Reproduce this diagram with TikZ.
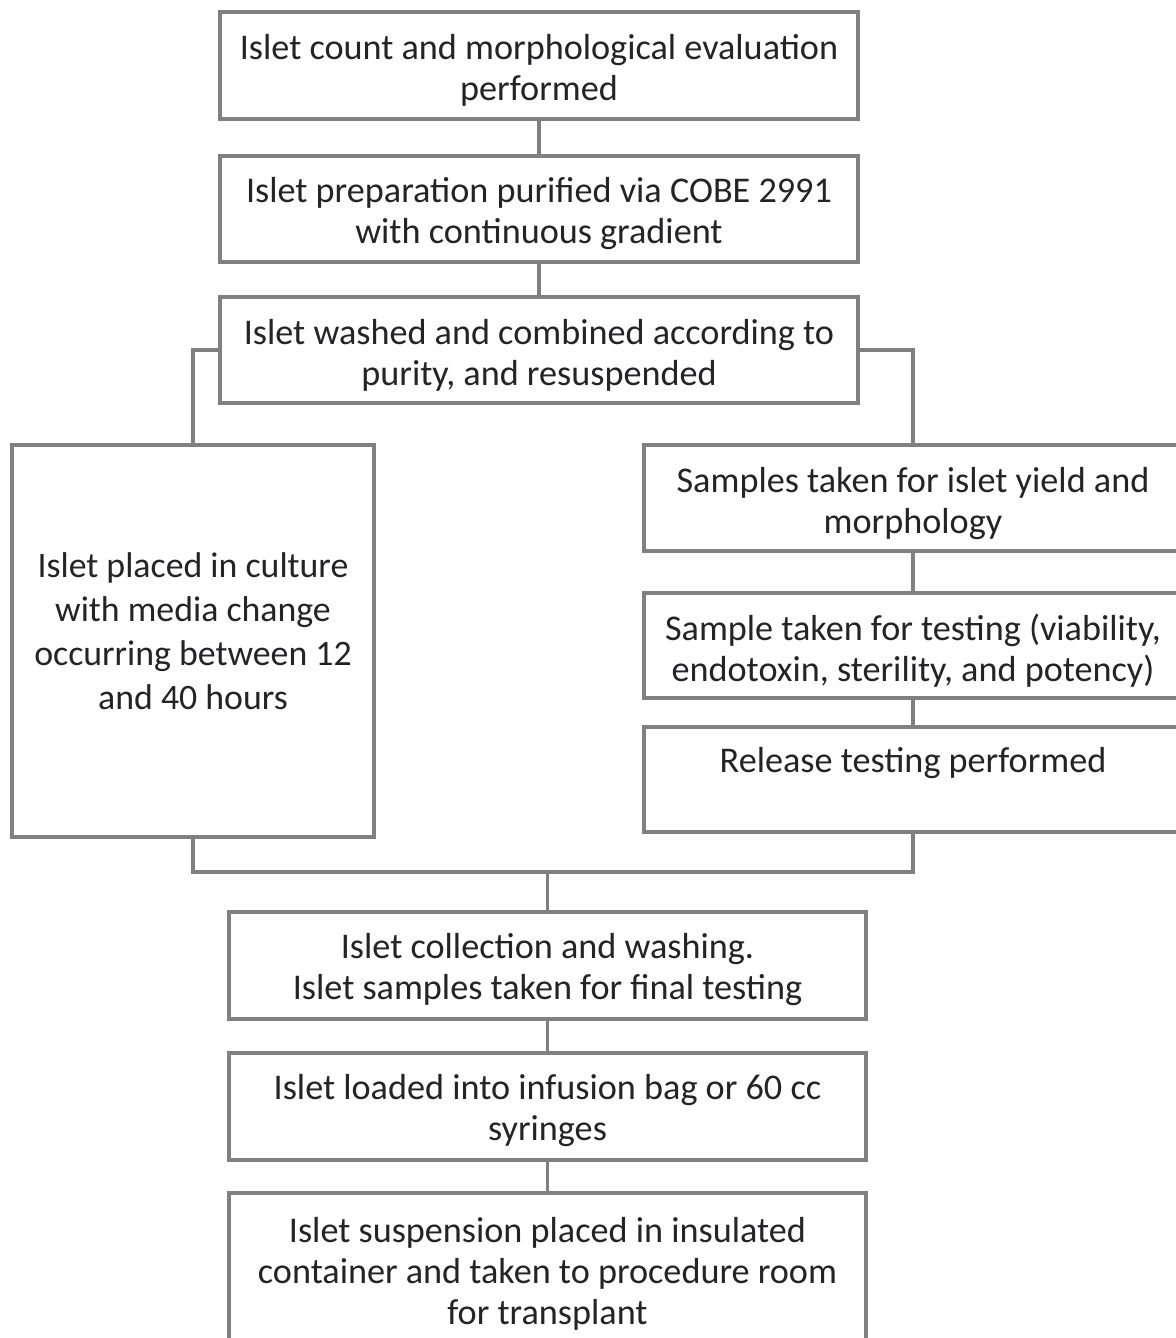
\documentclass[tikz,border=0pt]{standalone}
\usepackage{fontspec}
\usetikzlibrary{calc}
\setmainfont{Carlito}
\definecolor{boxgray}{RGB}{128,128,128}
\definecolor{txt}{RGB}{35,35,40}
\begin{document}
\begin{tikzpicture}[x=0.5pt,y=-0.5pt,
  box/.style={draw=boxgray, line width=2pt, fill=white, inner sep=0pt},
  wide/.style={box, minimum width=319pt},
  rbox/.style={box, minimum width=269pt},
  boxtext/.style={inner sep=0pt, align=center, text=txt, font=\fontsize{18.1}{20.5}\selectfont},
  conn/.style={draw=boxgray, line width=1.6pt}]
\useasboundingbox (0,0) rectangle (1176,1338);
\clip (0,0) rectangle (1176,1338);
\fill[white] (0,0) rectangle (1176,1338);

% boxes
\node[wide, minimum height=53.5pt] (b1) at (539,65.5) {};
\node[wide, minimum height=53pt] (b2) at (539,209) {};
\node[wide, minimum height=53pt] (b3) at (539,350) {};
\node[box, minimum width=181pt, minimum height=196pt] (L) at (193,641) {};
\node[rbox, minimum height=53pt] (R1) at (913,498) {};
\node[rbox, minimum height=52.5pt] (R2) at (913,645.5) {};
\node[rbox, minimum height=52.5pt] (R3) at (913,779.5) {};
\node[wide, minimum width=318.5pt, minimum height=53.5pt] (B1) at (547.5,965.5) {};
\node[wide, minimum width=318.5pt, minimum height=53.5pt] (B2) at (547.5,1106.5) {};
\node[wide, minimum width=318.5pt, minimum height=76pt] (B3) at (547.5,1269) {};

% texts
\node[boxtext] (tb1) at ($(b1.center)+(0,5)$) {Islet count and morphological evaluation\\performed};
\node[boxtext] (tb2) at ($(b2.center)+(0,5)$) {Islet preparation purified via COBE 2991\\with continuous gradient};
\node[boxtext] (tb3) at ($(b3.center)+(0,5)$) {Islet washed and combined according to\\purity, and resuspended};
\node[boxtext, font=\fontsize{17.9}{22}\selectfont] (tL) at ($(L.center)+(0,-10)$) {Islet placed in culture\\with media change\\occurring between 12\\and 40 hours};
\node[boxtext] (tR1) at ($(R1.center)+(0,6)$) {Samples taken for islet yield and\\morphology};
\node[boxtext] (tR2) at ($(R2.center)+(0,5)$) {Sample taken for testing (viability,\\endotoxin, sterility, and potency)};
\node[boxtext] (tR3) at (913,763) {Release testing performed};
\node[boxtext] (tB1) at ($(B1.center)+(0,4)$) {Islet collection and washing.\\Islet samples taken for final testing};
\node[boxtext] (tB2) at ($(B2.center)+(0,4)$) {Islet loaded into infusion bag or 60 cc\\syringes};
\node[boxtext] (tB3) at ($(B3.center)+(0,5)$) {Islet suspension placed in insulated\\container and taken to procedure room\\for transplant};

\coordinate (j) at (547.5,872);

\draw[conn] (b1.south) -- (b2.north);
\draw[conn] (b2.south) -- (b3.north);
\draw[conn] (b3.west) -| (L.north);
\draw[conn] (b3.east) -| (R1.north);
\draw[conn] (R1.south) -- (R2.north);
\draw[conn] (R2.south) -- (R3.north);
\draw[conn] (L.south) |- (j) -| (R3.south);
\draw[conn] (j) -- (B1.north);
\draw[conn] (B1.south) -- (B2.north);
\draw[conn] (B2.south) -- (B3.north);
\end{tikzpicture}
\end{document}
